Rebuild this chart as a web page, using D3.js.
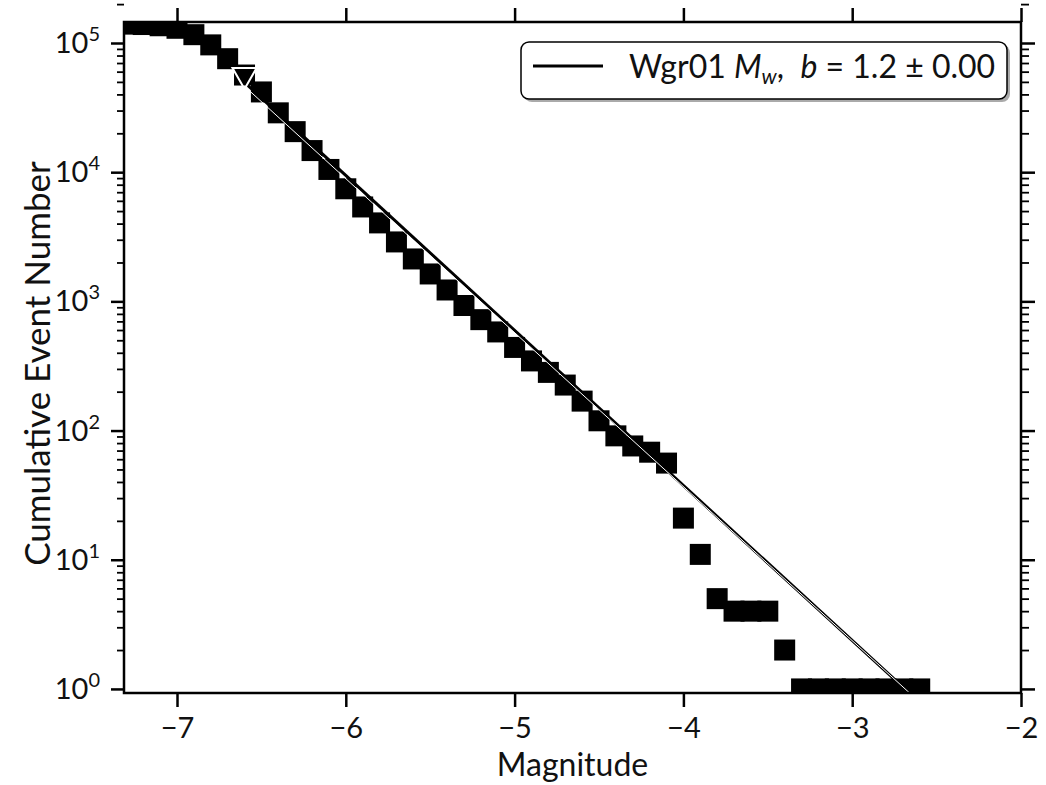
<!DOCTYPE html>
<html>
<head>
<meta charset="utf-8">
<script src="https://cdn.jsdelivr.net/npm/d3@7"></script>
<style>
  html, body { margin: 0; padding: 0; background: #fff; }
  svg { display: block; }
  text { font-family: Lato, "DejaVu Sans", sans-serif; fill: #111; }
</style>
</head>
<body>
<svg id="chart" width="1046" height="785"></svg>
<script>
// Cumulative event counts by magnitude bin (0.1 wide)
const magnitudes = [
  -7.3, -7.2, -7.1, -7.0, -6.9, -6.8, -6.7, -6.6, -6.5, -6.4,
  -6.3, -6.2, -6.1, -6.0, -5.9, -5.8, -5.7, -5.6, -5.5, -5.4,
  -5.3, -5.2, -5.1, -5.0, -4.9, -4.8, -4.7, -4.6, -4.5, -4.4,
  -4.3, -4.2, -4.1, -4.0, -3.9, -3.8, -3.7, -3.6, -3.5, -3.4,
  -3.3, -3.2, -3.1, -3.0, -2.9, -2.8, -2.7, -2.6
];
const cumulativeCounts = [
  140000, 139000, 136000, 130000, 116000, 96700, 75600, 56500, 41800, 28800,
  20600, 14700, 10500, 7440, 5380, 4050, 2885, 2130, 1630, 1225,
  929, 722, 580, 440, 346, 282, 225, 169, 119, 91,
  76, 68, 56, 21, 11, 5, 4, 4, 4, 2,
  1, 1, 1, 1, 1, 1, 1, 1
];

// Gutenberg-Richter fit: log10 N = a - b * M, starting at completeness magnitude
const completenessMag = -6.6;
const bValue = 1.2;
const aValue = -3.225;
// companion fit drawn as a thin white trace
const bValueAlt = 1.192;
const aValueAlt = -3.2022;

const xTicks = [-7, -6, -5, -4, -3, -2];
const yTicks = [1, 10, 100, 1000, 10000, 100000];
const yTickExponents = ["0", "1", "2", "3", "4", "5"];

const svg = d3.select("#chart");
const padL = 124, padR = 1021, padT = 22, padB = 693;

const x = d3.scaleLinear().domain([-7.314, -2]).range([padL, padR]);
const y = d3.scaleLog().domain([0.93, 145400]).range([padB, padT]);

const minorY = [];
yTicks.forEach(t => { for (let k = 2; k <= 9; k++) minorY.push(t * k); });

svg.append("defs").append("clipPath").attr("id", "plotClip")
  .append("rect").attr("x", padL).attr("y", padT)
  .attr("width", padR - padL).attr("height", padB - padT);

const plot = svg.append("g").attr("clip-path", "url(#plotClip)");

// data squares
const sq = 21;
const pts = magnitudes.map((m, i) => ({ m, n: cumulativeCounts[i] }));
plot.selectAll("rect.pt").data(pts).enter().append("rect")
  .attr("class", "pt")
  .attr("x", d => x(d.m) - sq / 2)
  .attr("y", d => y(d.n) - sq / 2)
  .attr("width", sq).attr("height", sq)
  .attr("fill", "#000");

// fit lines
const mMax = d3.max(magnitudes);
const fit = [completenessMag, mMax].map(m => ({ m, n: Math.pow(10, aValue - bValue * m) }));
const fitAlt = [completenessMag, mMax].map(m => ({ m, n: Math.pow(10, aValueAlt - bValueAlt * m) }));
const line = d3.line().x(d => x(d.m)).y(d => y(d.n));
plot.append("path").attr("d", line(fit))
  .attr("fill", "none").attr("stroke", "#000").attr("stroke-width", 3);
plot.append("path").attr("d", line(fitAlt))
  .attr("fill", "none").attr("stroke", "#fff").attr("stroke-width", 1);

// completeness marker (downward triangle outline)
const mcPoint = pts.find(d => Math.abs(d.m - completenessMag) < 1e-9);
const tri = d3.symbol().type(d3.symbolTriangle).size(250);
plot.append("path")
  .attr("d", tri())
  .attr("transform", `translate(${x(mcPoint.m)},${y(mcPoint.n)}) rotate(180)`)
  .attr("fill", "none").attr("stroke", "#fff").attr("stroke-width", 2);

// axes
const fmtX = d => (d < 0 ? "\u2212" : "") + Math.abs(d);
const styleAxis = g => {
  g.select(".domain").remove();
  g.selectAll(".tick line").attr("stroke", "#000").attr("stroke-width", 2.5);
};

svg.append("g").attr("transform", `translate(0,${padB})`)
  .call(d3.axisBottom(x).tickValues(xTicks).tickSize(14).tickSizeOuter(0).tickFormat(fmtX).tickPadding(10))
  .call(styleAxis)
  .call(g => g.selectAll(".tick text").style("font-size", "29px").attr("fill", "#111"));

svg.append("g").attr("transform", `translate(0,${padT})`)
  .call(d3.axisTop(x).tickValues(xTicks).tickSize(14).tickSizeOuter(0).tickFormat(""))
  .call(styleAxis);

svg.append("g").attr("transform", `translate(${padL},0)`)
  .call(d3.axisLeft(y).tickValues(yTicks).tickSize(13).tickSizeOuter(0).tickFormat(""))
  .call(styleAxis);
svg.append("g").attr("transform", `translate(${padL},0)`)
  .call(d3.axisLeft(y).tickValues(minorY).tickSize(7).tickSizeOuter(0).tickFormat(""))
  .call(g => { g.select(".domain").remove(); g.selectAll(".tick line").attr("stroke", "#000").attr("stroke-width", 1.8); });
svg.append("g").attr("transform", `translate(${padR},0)`)
  .call(d3.axisRight(y).tickValues(yTicks).tickSize(14).tickSizeOuter(0).tickFormat(""))
  .call(styleAxis);
svg.append("g").attr("transform", `translate(${padR},0)`)
  .call(d3.axisRight(y).tickValues(minorY).tickSize(8).tickSizeOuter(0).tickFormat(""))
  .call(g => { g.select(".domain").remove(); g.selectAll(".tick line").attr("stroke", "#000").attr("stroke-width", 1.8); });

// y tick labels 10^k
const yl = svg.append("g");
yTicks.forEach((t, i) => {
  const tx = yl.append("text")
    .attr("x", 100).attr("y", y(t) + 10)
    .attr("text-anchor", "end")
    .style("font-size", "29px");
  tx.append("tspan").text("10");
  tx.append("tspan").attr("dy", -12).style("font-size", "20px").text(yTickExponents[i]);
});

// frame
svg.append("rect").attr("x", padL).attr("y", padT)
  .attr("width", padR - padL).attr("height", padB - padT)
  .attr("fill", "none").attr("stroke", "#000").attr("stroke-width", 2.5);

// axis titles
svg.append("text").attr("x", (padL + padR) / 2).attr("y", 776)
  .attr("text-anchor", "middle").style("font-size", "32px").text("Magnitude");
svg.append("text")
  .attr("transform", `translate(50,${(padT + padB) / 2 + 6}) rotate(-90)`)
  .attr("text-anchor", "middle").style("font-size", "35px").text("Cumulative Event Number");

// legend
const lg = svg.append("g");
lg.append("rect").attr("x", 524).attr("y", 45).attr("width", 486).attr("height", 57)
  .attr("rx", 8).attr("fill", "#aaa");
lg.append("rect").attr("x", 521).attr("y", 42).attr("width", 486).attr("height", 57)
  .attr("rx", 8).attr("fill", "#fff").attr("stroke", "#000").attr("stroke-width", 1.5);
lg.append("line").attr("x1", 533).attr("x2", 603).attr("y1", 66).attr("y2", 66)
  .attr("stroke", "#000").attr("stroke-width", 3);
const lt = lg.append("text").attr("x", 629).attr("y", 78).style("font-size", "32px")
  .attr("xml:space", "preserve").style("white-space", "pre");
lt.append("tspan").text("Wgr01 ");
lt.append("tspan").style("font-style", "italic").text("M");
lt.append("tspan").attr("dy", 6).style("font-style", "italic").style("font-size", "21px").text("w");
lt.append("tspan").attr("dy", -6).text(",  ");
lt.append("tspan").style("font-style", "italic").text("b");
lt.append("tspan").text(` = ${bValue.toFixed(1)} \u00b1 0.00`);
</script>
</body>
</html>
